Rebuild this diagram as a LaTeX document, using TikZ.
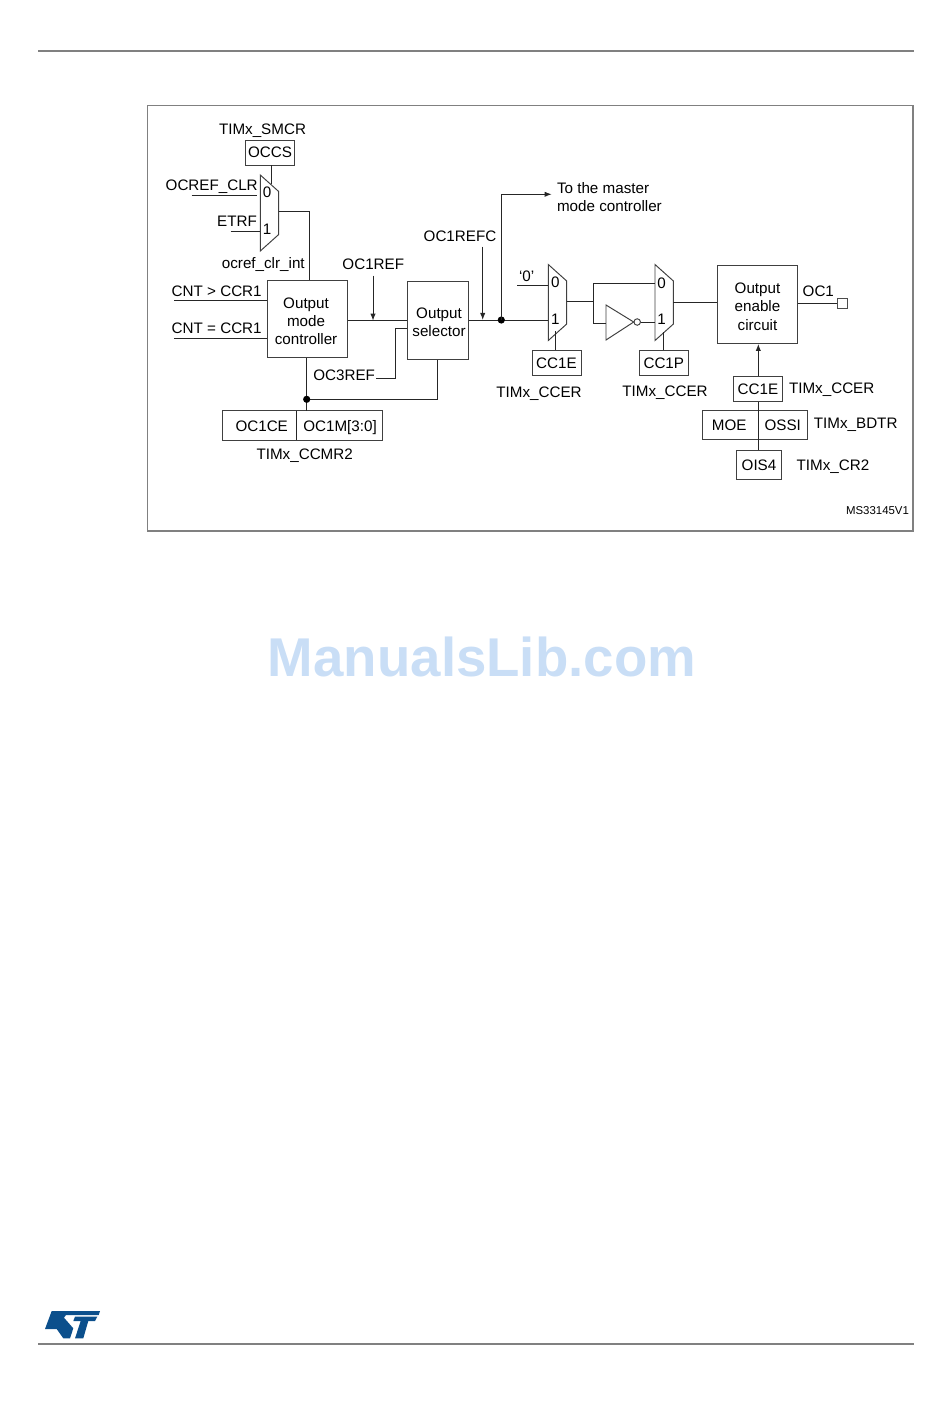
\documentclass[tikz,border=0pt]{standalone}
\usepackage{fontspec}
\setmainfont{Liberation Sans}
\usetikzlibrary{arrows.meta,positioning}
\definecolor{stblue}{HTML}{0B4F8C}
\definecolor{wmblue}{HTML}{C9DEF6}
\tikzset{
  lbl/.style={inner sep=0pt, font=\fontsize{8.65}{10.4}\selectfont, align=center},
  tag/.style={inner sep=0pt, font=\fontsize{8.65}{10.4}\selectfont, text height=6.2pt, text depth=0pt},
  blockbox/.style={draw=black!75, line width=.55pt, inner sep=0pt},
  regbox/.style={tag, draw=black!75, line width=.55pt, minimum height=.5cm},
  wire/.style={line width=.55pt, draw=black!85},
  sig/.style={wire, -{Latex[length=4pt,width=3pt]}},
  muxbody/.style={line width=.55pt, draw=black!75, fill=white},
  rulegray/.style={line width=.6pt, draw=black!50}
}
\begin{document}
\begin{tikzpicture}[x=.02cm, y=-.02cm]
    \path[use as bounding box] (0,0) rectangle (950,1420);
    % page furniture
    \coordinate (headl) at (38,51);
    \coordinate (headr) at (914,51);
    \coordinate (footl) at (38,1344);
    \coordinate (footr) at (914,1344);
    \draw[rulegray] (headl) -- (headr);
    \draw[rulegray] (footl) -- (footr);
    \draw[rulegray] (147.5,105.5) rectangle (913,531);
    \node[font=\fontsize{31.1}{31}\selectfont\bfseries, text=wmblue, inner sep=0pt] (wmark) at (482,657) {ManualsLib.com};
    % logo
    \fill[stblue] (51.7,1311) -- (100,1311) -- (98.7,1315) -- (66,1315) -- (64,1317.7) -- (73.3,1328.3) -- (70,1338.3) -- (63.3,1338.3) -- (56.7,1329) -- (45,1329) -- cycle;
    \fill[stblue] (75,1316.7) -- (97.3,1316.7) -- (95,1321) -- (88.3,1321) -- (83.3,1338.3) -- (75,1338.3) -- (80.7,1321) -- (73.3,1321) -- cycle;
    % free ends of the input wires
    \foreach \name/\x/\y in {clrin/191.7/195.7, clrend/257/195.7, etrfin/230.7/231.3, cntgt/174/300.3, cnteq/174/338.3,
        refjoin/373/320.7, reftop/373/275.7, refctop/482.7/246.7, zeroin/517/285.3, oc3start/376/378} {
      \coordinate (\name) at (\x,\y);
    }
    % muxes: name/left/top
    \foreach \name/\x/\y in {muxa/260.3/175, muxb/548.3/264.5, muxc/655/264.5} {
      \draw[muxbody] (\x,\y) -- ++(18.4,16.5) -- ++(0,43) -- ++(-18.4,16.5) -- cycle;
      \coordinate (\name nw) at (\x,\y);
    }
    \node[tag] (muxazero) at (267,192) {0};
    \node[tag] (muxaone) at (267,229) {1};
    \node[tag] (muxbzero) at (555.3,282) {0};
    \node[tag] (muxbone) at (555.3,319) {1};
    \node[tag] (muxczero) at (661.7,283) {0};
    \node[tag] (muxcone) at (661.7,319) {1};
    % blocks
    \node[blockbox, minimum width=1.61cm, minimum height=1.54cm] (modectl) at (307.3,319.2) {};
    \node[lbl, xshift=-.025cm, yshift=-.04cm] (modetxt) at (modectl) {Output\\mode\\controller};
    \node[blockbox, minimum width=1.22cm, minimum height=1.55cm] (outsel) at (437.8,320.3) {};
    \node[lbl, xshift=.025cm, yshift=-.04cm] (seltxt) at (outsel) {Output\\selector};
    \node[blockbox, minimum width=1.61cm, minimum height=1.55cm] (enable) at (757.5,304.7) {};
    \node[lbl, yshift=-.04cm] (enabtxt) at (enable) {Output\\enable\\circuit};
    \node[regbox, minimum width=.99cm] (occs) at (270,152.5) {OCCS};
    \node[regbox, minimum width=.98cm, minimum height=.51cm] (ccea) at (556.5,363) {CC1E};
    \node[regbox, minimum width=.98cm, minimum height=.51cm] (ccp) at (663.8,363) {CC1P};
    \node[regbox, minimum width=.98cm] (cceb) at (758,389) {CC1E};
    \node[regbox, minimum width=.91cm, minimum height=.58cm] (ois) at (759,464.8) {OIS4};
    % split registers
    \draw[blockbox] (222,410.7) rectangle (382.3,440);
    \node[tag] (ocice) at (261.7,426) {OC1CE};
    \node[tag] (ocim) at (340,426) {OC1M[3:0]};
    \coordinate (ccmrdiv) at (296.7,410.7);
    \draw[wire] (ccmrdiv) -- ++(0,29.3);
    \draw[blockbox] (702.3,410.3) rectangle (807.3,439.3);
    \node[tag] (moe) at (729.3,425) {MOE};
    \node[tag] (ossi) at (782.7,425) {OSSI};
    % inverter
    \draw[muxbody] (606,305) -- (633.7,322) -- (606,340) -- cycle;
    \coordinate (invin) at (606,323.3);
    \node[circle, draw=black!75, line width=.55pt, minimum size=.13cm, inner sep=0pt] (invout) at (637.2,322) {};
    \node[draw=black!70, line width=.6pt, minimum size=.2cm, inner sep=0pt] (ocipin) at (842.5,303.7) {};
    % labels
    \node[tag] (smcr) at (262.5,129) {TIMx\_SMCR};
    \node[tag] (clrlbl) at (211.7,185) {OCREF\_CLR};
    \node[tag] (etrflbl) at (237,221) {ETRF};
    \node[tag] (clrint) at (263.3,263) {ocref\_clr\_int};
    \node[tag] (gtlbl) at (216.7,291) {CNT > CCR1};
    \node[tag] (eqlbl) at (216.7,328) {CNT = CCR1};
    \node[tag] (ocilbl) at (373.3,264) {OC1REF};
    \node[tag] (ocirefc) at (460,236) {OC1REFC};
    \node[tag, anchor=west] (oc3lbl) at (313,375) {OC3REF};
    \node[tag] (zerolbl) at (526.7,276) {‘0’};
    \node[lbl, align=left, anchor=north west] (master) at (556.7,181.8) {To the master\\mode controller};
    \node[tag] (ccmr) at (304.7,454) {TIMx\_CCMR2};
    \node[tag] (ccera) at (539,392) {TIMx\_CCER};
    \node[tag] (cceri) at (665,391) {TIMx\_CCER};
    \node[tag] (ccerb) at (831.7,388) {TIMx\_CCER};
    \node[tag] (bdtr) at (855.7,423) {TIMx\_BDTR};
    \node[tag] (crtwo) at (833,465) {TIMx\_CR2};
    \node[tag] (ocitext) at (818.3,291) {OC1};
    \node[inner sep=0pt, font=\fontsize{6.5}{7}\selectfont] (mscode) at (877.5,511) {MS33145V1};
    % wires, left part
    \draw[wire] (occs.south -| 271,0) -- (271,184);
    \draw[wire] (clrin) -- (clrend);
    \draw[wire] (etrfin) -- (etrfin -| muxanw);
    \draw[wire] (278.7,211) -| (modectl.north -| 309.5,0);
    \draw[wire] (cntgt) -- (cntgt -| modectl.west);
    \draw[wire] (cnteq) -- (cnteq -| modectl.west);
    \draw[wire] (refjoin -| modectl.east) -- (refjoin -| outsel.west);
    \draw[sig] (reftop) -- (refjoin);
    \draw[wire] (oc3start) -| (395.3,328.3) -- (outsel.west |- 395.3,328.3);
    \coordinate (dotl) at (306.7,399.3);
    \draw[wire] (modectl.south -| dotl) -- (dotl |- ccmrdiv);
    \draw[wire] (dotl) -| (outsel.south -| 437.7,0);
    \fill (dotl) circle (3.6);
    % wires, right part
    \coordinate (dotr) at (501.3,320);
    \draw[wire] (dotr -| outsel.east) -- (dotr -| muxbnw);
    \fill (dotr) circle (3.6);
    \draw[sig] (dotr) |- (551.7,194.3);
    \draw[sig] (refctop) -- (refctop |- dotr);
    \draw[wire] (zeroin) -- (zeroin -| muxbnw);
    \draw[wire] (ccea.north -| 555.3,0) -- (555.3,331);
    \coordinate (split) at (593.3,301.3);
    \draw[wire] (566.7,301.3) -- (split);
    \draw[wire] (split |- 0,283.3) -- (split |- invin) -- (invin);
    \draw[wire] (split |- 0,283.3) -- (muxcnw |- 0,283.3);
    \draw[wire] (invout.east) -- (invout.east -| muxcnw);
    \draw[wire] (ccp.north -| 663.3,0) -- (663.3,332);
    \draw[wire] (673.4,302.3) -- (enable.west |- 673.4,302.3);
    \draw[wire] (enable.east |- ocipin) -- (ocipin.west);
    \draw[sig] (cceb.north -| 758.3,0) -- (enable.south -| 758.3,0);
    \draw[wire] (cceb.south -| 758.3,0) -- (ois.north -| 758.3,0);
\end{tikzpicture}
\end{document}
